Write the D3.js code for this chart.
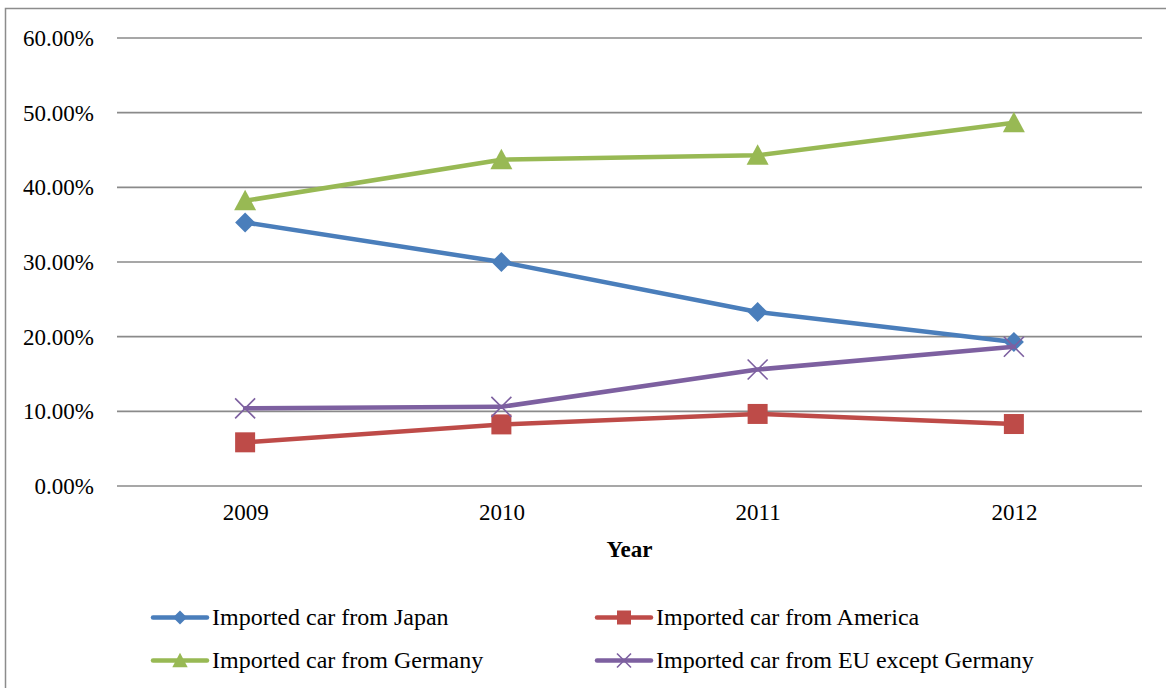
<!DOCTYPE html>
<html>
<head>
<meta charset="utf-8">
<script src="https://cdn.jsdelivr.net/npm/d3@7"></script>
<style>
  html, body { margin: 0; padding: 0; background: #fff; }
  svg { display: block; }
</style>
</head>
<body>
<svg id="chart" width="1166" height="688"></svg>
<script>
// Share of imported cars by origin, 2009-2012
const years = ["2009", "2010", "2011", "2012"];
const japan = [0.353, 0.300, 0.233, 0.193];
const america = [0.0585, 0.0825, 0.0965, 0.083];
const germany = [0.382, 0.437, 0.443, 0.4865];
const euExGermany = [0.104, 0.106, 0.156, 0.1865];
const yTicks = [0, 0.1, 0.2, 0.3, 0.4, 0.5, 0.6];

const seriesNames = [
  "Imported car from Japan",
  "Imported car from America",
  "Imported car from Germany",
  "Imported car from EU except Germany"
];

const series = [
  { name: seriesNames[0], values: japan, color: "#4a7ebb", marker: "diamond" },
  { name: seriesNames[1], values: america, color: "#be4b48", marker: "square" },
  { name: seriesNames[2], values: germany, color: "#98b954", marker: "triangle" },
  { name: seriesNames[3], values: euExGermany, color: "#7d60a0", marker: "cross" }
];

const FONT = '"Liberation Serif", "Times New Roman", serif';
const svg = d3.select("#chart");
const plot = { left: 117, right: 1142, top: 38, bottom: 486 };

// outer frame
svg.append("rect")
  .attr("x", 5.5).attr("y", 8.5)
  .attr("width", 1170).attr("height", 700)
  .attr("fill", "none").attr("stroke", "#8c8c8c").attr("stroke-width", 1.5);

const x = d3.scalePoint().domain(years).range([plot.left, plot.right]).padding(0.5);
const y = d3.scaleLinear().domain([0, 0.6]).range([plot.bottom, plot.top]);

// gridlines
svg.append("g").selectAll("line").data(yTicks).join("line")
  .attr("x1", plot.left).attr("x2", plot.right)
  .attr("y1", d => y(d)).attr("y2", d => y(d))
  .attr("stroke", "#8a8a8a").attr("stroke-width", 1.6);

// y axis labels
const yAxis = d3.axisLeft(y).tickValues(yTicks).tickSize(0).tickPadding(0)
  .tickFormat(d => d3.format(".2%")(d));
const gy = svg.append("g").attr("transform", `translate(${plot.left - 23},0)`).call(yAxis);
gy.select(".domain").remove();
gy.selectAll("text").style("font-family", FONT).style("font-size", "23px").attr("fill", "#000");

// x axis labels
const xAxis = d3.axisBottom(x).tickSize(0).tickPadding(0);
const gx = svg.append("g").attr("transform", `translate(0,${plot.bottom + 18})`).call(xAxis);
gx.select(".domain").remove();
gx.selectAll("text").style("font-family", FONT).style("font-size", "23px").attr("fill", "#000");

// axis title
svg.append("text")
  .attr("x", (plot.left + plot.right) / 2).attr("y", 556.5)
  .attr("text-anchor", "middle")
  .style("font-family", FONT).style("font-size", "23px").style("font-weight", "bold")
  .text("Year");

function drawMarker(g, type, cx, cy, color, s) {
  if (type === "diamond") {
    g.append("path")
      .attr("d", `M${cx},${cy - s}L${cx + s},${cy}L${cx},${cy + s}L${cx - s},${cy}Z`)
      .attr("fill", color);
  } else if (type === "square") {
    g.append("rect")
      .attr("x", cx - s).attr("y", cy - s)
      .attr("width", s * 2).attr("height", s * 2)
      .attr("fill", color);
  } else if (type === "triangle") {
    const w = s * 1.1;
    g.append("path")
      .attr("d", `M${cx},${cy - s * 1.1}L${cx + w},${cy + s * 0.95}L${cx - w},${cy + s * 0.95}Z`)
      .attr("fill", color);
  } else {
    g.append("path")
      .attr("d", `M${cx - s},${cy - s}L${cx + s},${cy + s}M${cx - s},${cy + s}L${cx + s},${cy - s}`)
      .attr("stroke", color).attr("stroke-width", 1.6).attr("fill", "none");
  }
}

const line = d3.line().x((d, i) => x(years[i])).y(d => y(d));

series.forEach(s => {
  const g = svg.append("g");
  g.append("path")
    .attr("d", line(s.values))
    .attr("fill", "none").attr("stroke", s.color)
    .attr("stroke-width", 4.5).attr("stroke-linejoin", "round").attr("stroke-linecap", "round");
  s.values.forEach((v, i) => drawMarker(g, s.marker, x(years[i]), y(v), s.color, 10));
});

// legend
const legendPos = [
  { x: 153, y: 617.5 }, { x: 597, y: 617.5 },
  { x: 153, y: 660.5 }, { x: 597, y: 660.5 }
];
series.forEach((s, i) => {
  const p = legendPos[i];
  const g = svg.append("g");
  g.append("line")
    .attr("x1", p.x).attr("x2", p.x + 54).attr("y1", p.y).attr("y2", p.y)
    .attr("stroke", s.color).attr("stroke-width", 4.5).attr("stroke-linecap", "round");
  drawMarker(g, s.marker, p.x + 27, p.y, s.color, 7);
  g.append("text")
    .attr("x", p.x + 59).attr("y", p.y + 7)
    .style("font-family", FONT).style("font-size", "24px").attr("fill", "#000")
    .text(s.name);
});
</script>
</body>
</html>
